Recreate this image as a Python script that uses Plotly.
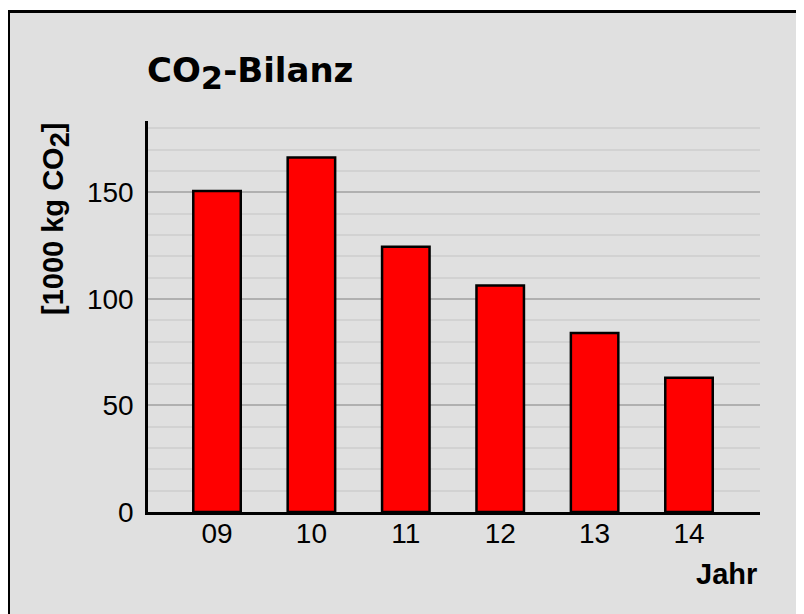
import plotly.graph_objects as go

years = ["09", "10", "11", "12", "13", "14"]
co2_values = [150.7, 166.4, 124.5, 106.3, 84.0, 63.0]
y_ticks = [0, 50, 100, 150]

# the page has an 8px body margin; figure sized to fill the rest of the window
OFF = 8
W, H = 804 - OFF, 614 - OFF
# plot area in reference (window) pixels
PX0, PX1, PY0, PY1 = 148, 760, 121, 512
L, R, T, B = PX0 - OFF, 804 - PX1, PY0 - OFF, 614 - PY1
pw, ph = PX1 - PX0, PY1 - PY0

def px_x(x):
    return (x - PX0) / pw

def px_y(y):
    return (PY1 - y) / ph

fig = go.Figure()
fig.add_trace(go.Bar(
    x=list(range(len(years))), y=co2_values,
    width=0.503,
    marker=dict(color="#ff0000", line=dict(color="#000000", width=2.5)),
    hoverinfo="skip",
))

fig.update_layout(
    width=W, height=H,
    margin=dict(l=L, r=R, t=T, b=B, pad=0),
    paper_bgcolor="#ffffff",
    plot_bgcolor="#f0f0f0",
    showlegend=False,
    font=dict(family="Arial, Liberation Sans, sans-serif", color="#000000", size=28),
    xaxis=dict(
        range=[-0.731, 5.752],
        tickmode="array", tickvals=list(range(len(years))), ticktext=years,
        showgrid=False, zeroline=False,
        showline=True, linecolor="#000000", linewidth=2.5,
        ticks="", tickfont=dict(size=28),
        ticklabelstandoff=-5,
        fixedrange=True,
    ),
    yaxis=dict(
        range=[0, 183.5],
        tickmode="array", tickvals=y_ticks,
        showgrid=True, gridcolor="#b0b0b0", gridwidth=2,
        minor=dict(dtick=10, tick0=0, showgrid=True, gridcolor="#d2d2d2", gridwidth=2, ticks=""),
        zeroline=False,
        showline=True, linecolor="#000000", linewidth=2.5,
        ticks="", tickfont=dict(size=28),
        ticklabelstandoff=6,
        fixedrange=True,
    ),
    shapes=[
        dict(type="rect", xref="paper", yref="paper",
             x0=px_x(8.5), x1=px_x(840), y0=px_y(650), y1=px_y(11.5),
             line=dict(width=0), fillcolor="#e0e0e0", layer="below"),
        dict(type="rect", xref="paper", yref="paper",
             x0=px_x(8.5), x1=px_x(840), y0=px_y(650), y1=px_y(11.5),
             line=dict(color="#000000", width=3), fillcolor="rgba(0,0,0,0)",
             layer="above"),
    ],
    annotations=[
        dict(text="<b>CO<sub><span style='font-size:32px'>2</span></sub>-Bilanz</b>",
             xref="paper", yref="paper",
             x=px_x(145), y=px_y(73), xanchor="left", yanchor="middle",
             showarrow=False,
             font=dict(size=34, family="DejaVu Sans, sans-serif")),
        dict(text="<b>[1000 kg CO<sub><span style='font-size:27px'>2</span></sub>]</b>",
             xref="paper", yref="paper",
             x=px_x(56), y=px_y(219), xanchor="center", yanchor="middle",
             textangle=-90, showarrow=False, font=dict(size=29)),
        dict(text="<b>Jahr</b>", xref="paper", yref="paper",
             x=px_x(759), y=px_y(574), xanchor="right", yanchor="middle",
             showarrow=False, font=dict(size=29)),
    ],
)

fig.write_html("out.html")
